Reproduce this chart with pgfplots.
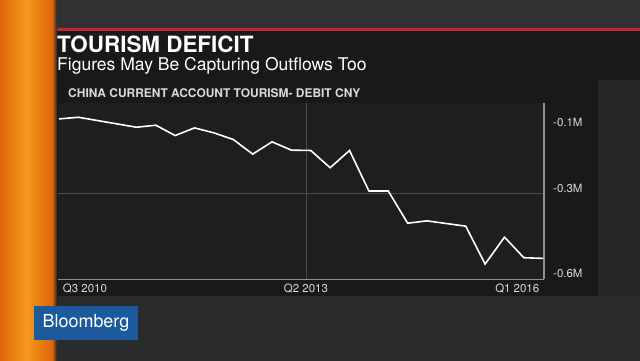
\documentclass[border=0pt]{standalone}
\usepackage{fontspec}
\setmainfont{TeX Gyre Heros}
\usepackage{pgfplots}
\pgfplotsset{compat=1.18}
\definecolor{orangeA}{HTML}{E0660A}
\definecolor{orangeB}{HTML}{F49A1E}
\definecolor{bgdark}{HTML}{242527}
\definecolor{bglow}{HTML}{2A2B2C}
\definecolor{topgray}{HTML}{303132}
\definecolor{band}{HTML}{19191B}
\definecolor{panel}{HTML}{18191B}
\definecolor{plotbg}{HTML}{1D1E20}
\definecolor{rightgray}{HTML}{252628}
\definecolor{bbred}{HTML}{C3262B}
\definecolor{bbblue}{HTML}{1C5A9C}
\definecolor{gridgray}{HTML}{4A4B4D}
\definecolor{axisgray}{HTML}{8E8F91}
\definecolor{labelgray}{HTML}{DADADA}
\pgfplotstableread{
i   v
0   -0.076
1   -0.071
2   -0.081
3   -0.091
4   -0.101
5   -0.095
6   -0.126
7   -0.103
8   -0.118
9   -0.138
10  -0.182
11  -0.145
12  -0.170
13  -0.171
14  -0.223
15  -0.171
16  -0.293
17  -0.293
18  -0.390
19  -0.383
20  -0.391
21  -0.399
22  -0.513
23  -0.432
24  -0.494
25  -0.496
}\tourism
\begin{document}
\begin{tikzpicture}[x=1bp,y=1bp]
\useasboundingbox (0,0) rectangle (640,360);
% backgrounds
\shade[top color=bgdark, bottom color=bglow] (0,0) rectangle (640,360);
\fill[topgray] (0,331) rectangle (640,360);
\fill[rightgray] (598,64) rectangle (640,280);
\fill[band] (55,280) rectangle (640,331);
\fill[panel] (57,64) rectangle (598,280);
\fill[bbred] (55,329) rectangle (640,332);
% orange strip
\shade[left color=orangeA, right color=orangeA, middle color=orangeB] (0,0) rectangle (52,360);
\shade[left color=orangeA, right color=bgdark] (52,0) rectangle (57,360);
% titles
\node[anchor=base west, inner sep=0pt, text=white, font=\fontsize{22.5}{24}\selectfont\bfseries] at (57,308) {TOURISM DEFICIT};
\node[anchor=base west, inner sep=0pt, text=white, font=\fontsize{17.6}{19}\selectfont] at (57,290) {Figures May Be Capturing Outflows Too};
\node[anchor=base west, inner sep=0pt, text=labelgray, font=\fontsize{12}{14}\selectfont\bfseries] at (68,262.5) {CHINA CURRENT ACCOUNT TOURISM- DEBIT CNY};
% Bloomberg logo
\fill[bbblue] (34,20) rectangle (138,54);
\node[inner sep=0pt, text=white, font=\fontsize{18}{20}\selectfont] at (86,37.5) {Bloomberg};
\begin{axis}[
  at={(58bp,80.7bp)}, anchor=south west,
  scale only axis, width=486bp, height=176.3bp,
  xmin=-0.05, xmax=25.04, ymin=-0.559, ymax=-0.028,
  axis background/.style={fill=plotbg},
  axis x line*=bottom, axis y line*=right,
  axis line style={color=axisgray, line width=1.3bp},
  major tick length=0pt,
  xtick={12.75}, xticklabels={Q2 2013},
  xmajorgrids, ymajorgrids,
  grid style={color=gridgray, line width=0.8bp},
  extra x ticks={0,25},
  extra x tick labels={\makebox[0pt][l]{\hspace{4bp}Q3 2010},\makebox[0pt][r]{Q1 2016\hspace{4bp}}},
  extra x tick style={grid=none},
  xticklabel style={anchor=north, inner sep=0pt, yshift=-4bp, text=labelgray, font=\fontsize{11.5}{13}\selectfont},
  ytick={-0.3}, yticklabels={\empty},
  extra y ticks={-0.085,-0.284,-0.54},
  extra y tick labels={-0.1M,-0.3M,-0.6M},
  extra y tick style={grid=none},
  yticklabel style={anchor=west, inner sep=0pt, xshift=9bp, text=labelgray, font=\fontsize{11.5}{13}\selectfont},
  clip=false,
]
\addplot[white, line width=1.6bp, line join=miter] table[x=i, y=v] {\tourism};
\end{axis}
\end{tikzpicture}
\end{document}
